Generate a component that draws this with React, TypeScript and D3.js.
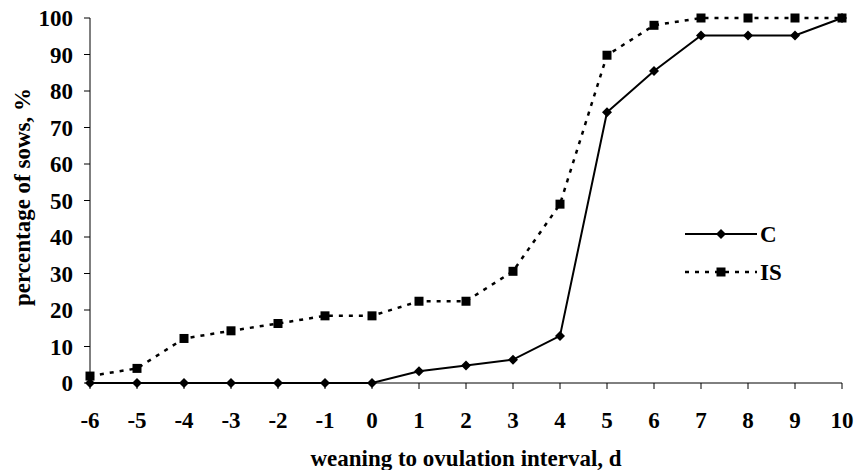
import React from "react";
import * as d3 from "d3";

const days = [-6, -5, -4, -3, -2, -1, 0, 1, 2, 3, 4, 5, 6, 7, 8, 9, 10];
const seriesC = [0, 0, 0, 0, 0, 0, 0, 3.2, 4.8, 6.4, 12.9, 74.2, 85.5, 95.2, 95.2, 95.2, 100];
const seriesIS = [1.9, 4.0, 12.2, 14.3, 16.3, 18.4, 18.4, 22.4, 22.4, 30.6, 49.0, 89.8, 98.0, 100, 100, 100, 100];
const yTicks = [0, 10, 20, 30, 40, 50, 60, 70, 80, 90, 100];
const legendLabels = ["C", "IS"];

const W = 858;
const H = 470;
const FONT = "'Liberation Serif', 'Times New Roman', serif";

export default function App() {
  const x = d3.scaleLinear().domain([-6, 10]).range([90, 842]);
  const y = d3.scaleLinear().domain([0, 100]).range([383, 18]);

  const line = d3
    .line<number>()
    .x((_, i) => x(days[i]))
    .y((v) => y(v));

  const diamond = (cx: number, cy: number, r: number) =>
    `M${cx},${cy - r}L${cx + r},${cy}L${cx},${cy + r}L${cx - r},${cy}Z`;

  return (
    <svg
      width={W}
      height={H}
      style={{ position: "absolute", left: 0, top: 0, background: "#fff" }}
      fontFamily={FONT}
      fontWeight="bold"
    >
      {/* y axis */}
      <line x1={x(-6)} x2={x(-6)} y1={y(0)} y2={y(100)} stroke="#000" strokeWidth={1} />
      {yTicks.map((t) => (
        <g key={t}>
          <line x1={x(-6) - 6} x2={x(-6)} y1={y(t)} y2={y(t)} stroke="#000" strokeWidth={1} />
          <text x={73} y={y(t)} dy="0.35em" textAnchor="end" fontSize={23}>
            {t}
          </text>
        </g>
      ))}
      {/* x axis */}
      <line x1={x(-6)} x2={x(10)} y1={y(0)} y2={y(0)} stroke="#000" strokeWidth={1} />
      {days.map((d) => (
        <g key={d}>
          <line x1={x(d)} x2={x(d)} y1={y(0)} y2={y(0) + 6} stroke="#000" strokeWidth={1} />
          <text x={x(d)} y={428} textAnchor="middle" fontSize={23}>
            {d}
          </text>
        </g>
      ))}
      <text x={(x(-6) + x(10)) / 2} y={466} textAnchor="middle" fontSize={23}>
        weaning to ovulation interval, d
      </text>
      <text
        transform={`translate(30,197) rotate(-90)`}
        textAnchor="middle"
        fontSize={23}
      >
        percentage of sows, %
      </text>

      {/* IS series */}
      <path d={line(seriesIS) ?? ""} fill="none" stroke="#000" strokeWidth={2.5} strokeDasharray="4,6" />
      {seriesIS.map((v, i) => (
        <rect key={i} x={x(days[i]) - 4.5} y={y(v) - 4.5} width={9} height={9} fill="#000" />
      ))}
      {/* C series */}
      <path d={line(seriesC) ?? ""} fill="none" stroke="#000" strokeWidth={2} />
      {seriesC.map((v, i) => (
        <path key={i} d={diamond(x(days[i]), y(v), 5)} fill="#000" />
      ))}

      {/* legend */}
      <line x1={685} x2={757} y1={234} y2={234} stroke="#000" strokeWidth={2} />
      <path d={diamond(721, 234, 5)} fill="#000" />
      <text x={760} y={234} dy="0.35em" fontSize={23}>
        {legendLabels[0]}
      </text>
      <line x1={685} x2={757} y1={272} y2={272} stroke="#000" strokeWidth={2.5} strokeDasharray="4,6" />
      <rect x={716.5} y={267.5} width={9} height={9} fill="#000" />
      <text x={760} y={272} dy="0.35em" fontSize={23}>
        {legendLabels[1]}
      </text>
    </svg>
  );
}
